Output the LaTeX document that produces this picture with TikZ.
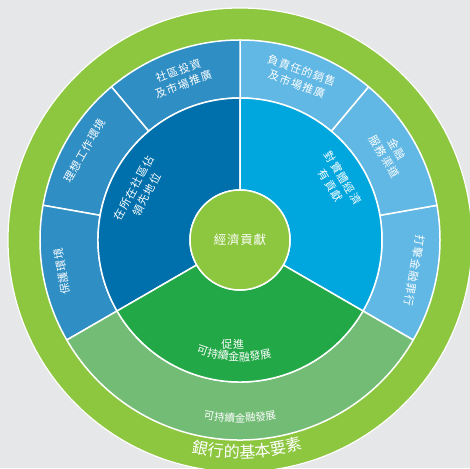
\documentclass[tikz,border=0pt]{standalone}
\usepackage{fontspec}
\usetikzlibrary{decorations.text}
\newfontfamily\cjkls[LetterSpace=10]{Noto Sans CJK TC}
\newfontfamily\cjkm[LetterSpace=6]{Noto Sans CJK TC}
\definecolor{bg}{HTML}{E6E7E8}
\definecolor{outergreen}{HTML}{8DC63F}
\definecolor{mblue}{HTML}{2F8EC4}
\definecolor{lblue}{HTML}{62B8E5}
\definecolor{dblue}{HTML}{0070AC}
\definecolor{bblue}{HTML}{00A7DF}
\definecolor{igreen}{HTML}{23A847}
\definecolor{lgreen}{HTML}{73BC76}
\definecolor{cgreen}{HTML}{8DC63F}
\newcommand\annsec[5]{\filldraw[sepline,fill=#5] (#1:#3) arc[start angle=#1,end angle=#2,radius=#3] -- (#2:#4) arc[start angle=#2,end angle=#1,radius=#4] -- cycle;}
\begin{document}
\begin{tikzpicture}[x=1pt,y=1pt,
  sepline/.style={draw=white,line width=1.5pt,line join=round},
  lbl/.style={text=white,font=\cjkls\fontsize{11}{14.5}\selectfont,align=center,inner sep=0pt},
  curvetext/.style={decorate,decoration={text along path,text align=center,text={#1}}}]
\useasboundingbox (-240,-228) rectangle (230,240);
\fill[bg] (-240,-228) rectangle (230,240);
\begin{scope}
\clip (-240,-228) rectangle (230,240);
\filldraw[fill=outergreen,draw=white,line width=1.2pt] (0,0) circle[radius=232];
\end{scope}
% outer ring
\annsec{-30}{10}{142}{200}{lblue}
\annsec{10}{50}{142}{200}{lblue}
\annsec{50}{90}{142}{200}{lblue}
\annsec{90}{130}{142}{200}{mblue}
\annsec{130}{170}{142}{200}{mblue}
\annsec{170}{210}{142}{200}{mblue}
\annsec{210}{330}{142}{200}{lgreen}
% inner ring
\annsec{90}{210}{50}{142}{dblue}
\annsec{-30}{90}{50}{142}{bblue}
\annsec{210}{330}{50}{142}{igreen}
% centre
\node[circle,minimum size=100pt,inner sep=0pt,fill=cgreen,draw=white,line width=1.5pt,
  text=white,font=\cjkm\fontsize{12.5}{14}\selectfont] (core) at (0,0) {經濟貢獻};
% outer labels
\node[lbl,rotate=20] (l1) at (110:173) {社區投資\\及市場推廣};
\node[lbl,rotate=-20] (l2) at (70:173) {負責任的銷售\\及市場推廣};
\node[lbl,rotate=-60] (l3) at (30:174) {金融\\服務渠道};
\node[lbl,rotate=-100] (l4) at (-10:177) {打擊金融罪行};
\node[lbl,rotate=100] (l5) at (190:181) {保護環境};
\node[lbl,rotate=60] (l6) at (150:179) {理想工作環境};
% inner labels
\node[lbl,rotate=62] (i1) at (154:111) {在所在社區佔\\領先地位};
\node[lbl,rotate=-58] (i2) at (31:113) {對實體經濟\\有貢獻};
\node[lbl,font=\cjkm\fontsize{11}{14}\selectfont] (i3) at (266:105) {促進};
% curved texts
\path[curvetext={|\cjkm\fontsize{11}{12}\selectfont\color{white}|可持續金融發展}] (237:121) arc[start angle=237,end angle=297,radius=121];
\path[curvetext={|\cjkm\fontsize{10.5}{12}\selectfont\color{white}|可持續金融發展}] (240:182) arc[start angle=240,end angle=300,radius=182];
\path[curvetext={|\cjkls\fontsize{16}{17}\selectfont\color{white}|銀行的基本要素}] (242:218) arc[start angle=242,end angle=302,radius=218];
\end{tikzpicture}
\end{document}
